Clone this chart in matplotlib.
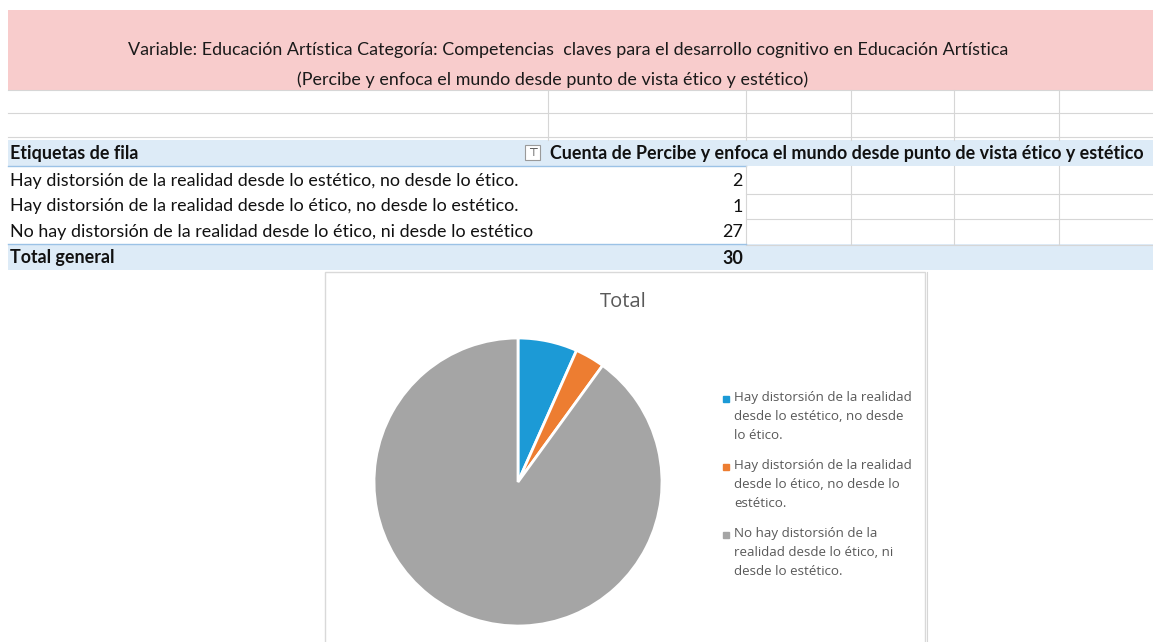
import matplotlib
matplotlib.use("Agg")
import matplotlib.pyplot as plt
from matplotlib.patches import Rectangle
import textwrap

# ---------------- data ----------------
title_line1 = "Variable: Educación Artística Categoría: Competencias  claves para el desarrollo cognitivo en Educación Artística"
title_line2 = "(Percibe y enfoca el mundo desde punto de vista ético y estético)"
header_label = "Etiquetas de fila"
header_value = "Cuenta de Percibe y enfoca el mundo desde punto de vista ético y estético"
categories = [
    "Hay distorsión de la realidad desde lo estético, no desde lo ético.",
    "Hay distorsión de la realidad desde lo ético, no desde lo estético.",
    "No hay distorsión de la realidad desde lo ético, ni desde lo estético",
]
counts = [2, 1, 27]
total_label = "Total general"
legend_labels = [
    "Hay distorsión de la realidad desde lo estético, no desde lo ético.",
    "Hay distorsión de la realidad desde lo ético, no desde lo estético.",
    "No hay distorsión de la realidad desde lo ético, ni desde lo estético.",
]
pie_title = "Total"
colors = ["#1c9ad6", "#ed7d31", "#a5a5a5"]

# ---------------- figure ----------------
W, H = 1153, 642
fig = plt.figure(figsize=(W / 100, H / 100), dpi=100)
bg = fig.add_axes([0, 0, 1, 1])
bg.set_xlim(0, W)
bg.set_ylim(H, 0)
bg.axis("off")

TF = ["Lato", "DejaVu Sans"]
CF = ["Open Sans", "DejaVu Sans"]
grid = "#d6d6d6"
blue_fill = "#ddebf7"
blue_line = "#9bc2e6"
FS = 12.9

# banner
bg.add_patch(Rectangle((8, 10), W - 8, 80, facecolor="#f8cccc", edgecolor="none"))
bg.text(568, 50, title_line1, ha="center", va="center", fontsize=FS, family=TF, color="#1a1a1a")
bg.text(553, 80, title_line2, ha="center", va="center", fontsize=FS, family=TF, color="#1a1a1a")

# empty grid rows
for y in (90, 113, 137):
    bg.plot([8, W], [y, y], color=grid, lw=0.8)
for x in (548, 746, 851, 954, 1059):
    bg.plot([x, x], [90, 140], color=grid, lw=0.8)

# header row
bg.add_patch(Rectangle((8, 140), W - 8, 26, facecolor=blue_fill, edgecolor="none"))
bg.plot([8, 746], [166, 166], color=blue_line, lw=1.0)
bg.text(10, 154, header_label, ha="left", va="center", fontsize=FS, family=TF,
        fontweight="bold", color="#111111")
bg.add_patch(Rectangle((525, 145), 15, 15, facecolor="white", edgecolor="#9a9a9a", lw=0.8))
bg.text(532.5, 152.5, "⊤", ha="center", va="center", fontsize=8, color="#333333")
bg.text(550, 154, header_value, ha="left", va="center", fontsize=FS, family=TF,
        fontweight="bold", color="#111111")

# data rows
row_h = 25.5
for i, (cat, val) in enumerate(zip(categories, counts)):
    yc = 181 + i * row_h
    bg.text(10, yc, cat, ha="left", va="center", fontsize=FS, family=TF, color="#111111")
    bg.text(743, yc, str(val), ha="right", va="center", fontsize=FS, family=TF, color="#111111")
    bg.plot([746, W], [yc + row_h / 2, yc + row_h / 2], color=grid, lw=0.8)
for x in (746, 851, 954, 1059):
    bg.plot([x, x], [166, 244], color=grid, lw=0.8)

# total row
bg.add_patch(Rectangle((8, 244), W - 8, 26, facecolor=blue_fill, edgecolor="none"))
bg.plot([8, 746], [244, 244], color=blue_line, lw=1.0)
bg.text(10, 258, total_label, ha="left", va="center", fontsize=FS, family=TF,
        fontweight="bold", color="#111111")
bg.text(743, 258, str(sum(counts)), ha="right", va="center", fontsize=FS, family=TF,
        fontweight="bold", color="#111111")

# chart box
bg.add_patch(Rectangle((325, 272), 600, 372, facecolor="white", edgecolor="#d9d9d9", lw=1.0))
bg.plot([927, 927], [272, H], color=grid, lw=0.8)
bg.text(623, 302, pie_title, ha="center", va="center", fontsize=14.5, family=CF, color="#595959")

# pie
cx, cy, r = 518, 482, 144
pax = fig.add_axes([(cx - r) / W, (H - cy - r) / H, 2 * r / W, 2 * r / H])
pax.pie(counts, colors=colors, startangle=90, counterclock=False,
        wedgeprops=dict(edgecolor="white", linewidth=2.0))
pax.set_xlim(-1.0, 1.0)
pax.set_ylim(-1.0, 1.0)
pax.set_aspect("equal")
pax.axis("off")

# legend
for i, (lab, col) in enumerate(zip(legend_labels, colors)):
    y0 = 391 + i * 68
    bg.plot([726], [y0 + 8], marker="s", markersize=4.5, color=col, linestyle="none")
    bg.text(734, y0, textwrap.fill(lab, 29), ha="left", va="top", fontsize=9.6,
            family=CF, color="#595959", linespacing=1.6)

fig.savefig("out.png", dpi=100)
